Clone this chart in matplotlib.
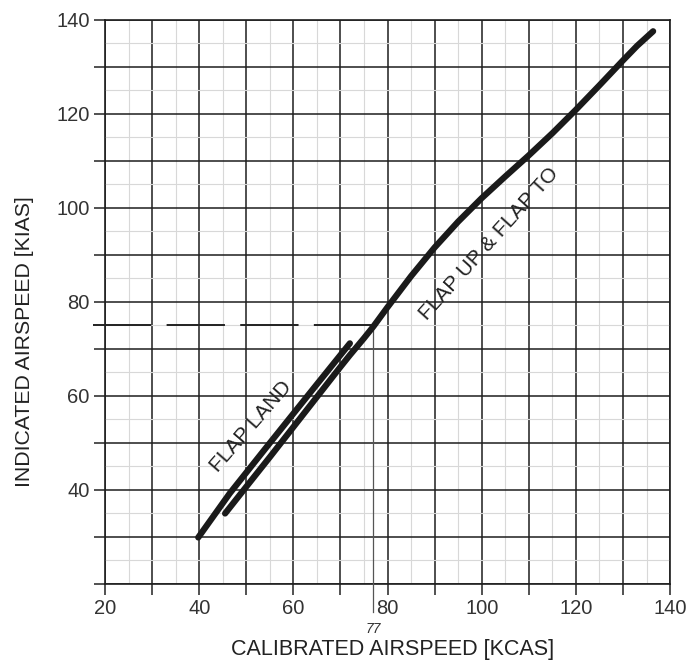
import numpy as np
import matplotlib
matplotlib.use("Agg")
from matplotlib import pyplot as plt

plt.rcParams['font.family'] = ['Liberation Sans', 'DejaVu Sans']
plt.rcParams['lines.scale_dashes'] = False

# flap up & flap TO curve (KCAS -> KIAS)
up_kcas = [45.5, 50, 55, 60, 65, 70, 72, 75, 77, 80, 85, 90, 95, 100,
           105, 110, 115, 120, 125, 130, 133, 136.4]
up_kias = [35.0, 40.7, 47.0, 53.4, 59.8, 66.2, 68.7, 72.3, 74.8, 78.9, 85.5,
           91.6, 97.1, 102.1, 106.7, 111.2, 115.9, 120.9, 126.1, 131.4,
           134.5, 137.6]

# flap land curve
land_kcas = [39.8, 46.5, 55, 65, 72]
land_kias = [29.9, 39.3, 50.0, 62.5, 71.2]

# reference marks
ref_kias = 75
ref_kcas = 77

x_ticks = list(range(20, 141, 10))
y_ticks = list(range(20, 141, 10))

fig = plt.figure(figsize=(6.91, 6.64), dpi=100)
ax = fig.add_axes([0.152, 0.1205, 0.8177, 0.8494])

ax.set_xlim(20, 140)
ax.set_ylim(20, 140)

ax.set_xticks(x_ticks)
ax.set_xticklabels([str(t) if t % 20 == 0 else '' for t in x_ticks])
ax.set_yticks(y_ticks)
ax.set_yticklabels([str(t) if t % 20 == 0 and t > 20 else '' for t in y_ticks])
ax.set_xticks(np.arange(25, 140, 10), minor=True)
ax.set_yticks(np.arange(25, 140, 10), minor=True)

ax.tick_params(which='major', direction='out', length=8, width=1.1,
               color='#222222', labelsize=14.5, pad=3, labelcolor='#333333')
ax.tick_params(which='minor', length=0)

ax.grid(which='major', color='#1e1e1e', linewidth=1.1)
ax.grid(which='minor', color='#d8d8d8', linewidth=0.8)
ax.set_axisbelow(True)
for s in ax.spines.values():
    s.set_color('#1e1e1e')
    s.set_linewidth(1.2)

# dashed reference at 75 KIAS and the 77 KCAS marker
ax.plot([17.5, ref_kcas], [ref_kias, ref_kias], color='#222222', lw=1.4,
        dashes=(42, 11), clip_on=False, zorder=3)
ax.plot([ref_kcas, ref_kcas], [ref_kias, 14.0], color='#555555', lw=0.9,
        clip_on=False, zorder=3)
ax.text(ref_kcas, 10.5, '77', fontsize=10, style='italic', ha='center',
        va='center', color='#333333')

ax.plot(land_kcas, land_kias, color='#1a1a1a', lw=4.5,
        solid_capstyle='round', solid_joinstyle='round', zorder=4)
ax.plot(up_kcas, up_kias, color='#1a1a1a', lw=4.5,
        solid_capstyle='round', solid_joinstyle='round', zorder=4)

ax.text(51.0, 53.6, 'FLAP LAND', fontsize=15, rotation=49,
        rotation_mode='anchor', ha='center', va='center', color='#222222',
        zorder=5)
ax.text(101.6, 92.4, 'FLAP UP & FLAP TO', fontsize=15, rotation=48,
        rotation_mode='anchor', ha='center', va='center', color='#222222',
        zorder=5)

ax.set_xlabel('CALIBRATED AIRSPEED [KCAS]', fontsize=15.5, color='#222222')
ax.set_ylabel('INDICATED AIRSPEED [KIAS]', fontsize=15.3, color='#222222')
ax.xaxis.set_label_coords(0.508, -0.117)
ax.yaxis.set_label_coords(-0.142, 0.429)
ax.xaxis.label.set_va('center')
ax.yaxis.label.set_va('center')

plt.savefig('out.png', dpi=100)
